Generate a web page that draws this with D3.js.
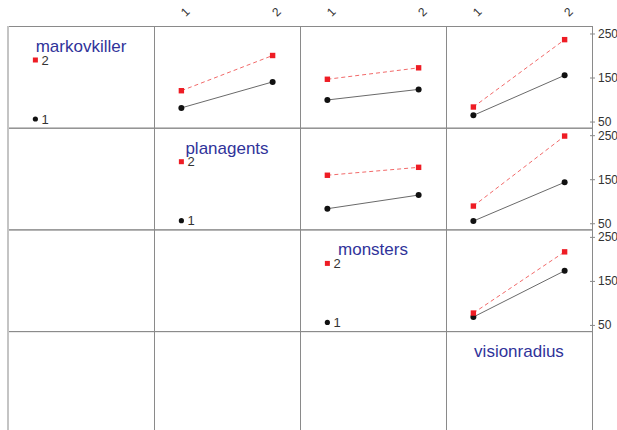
<!DOCTYPE html>
<html>
<head>
<meta charset="utf-8">
<script src="https://cdn.jsdelivr.net/npm/d3@7"></script>
<style>
  html, body { margin: 0; padding: 0; background: #fff; }
  svg { display: block; font-family: "Liberation Sans", Arial, sans-serif; }
</style>
</head>
<body>
<svg id="chart" width="617" height="430"></svg>
<script>
// Factors shown along the diagonal (row = trace factor, column = x factor)
const factors = ["markovkiller", "planagents", "monsters", "visionradius"];
const levels = ["1", "2"];
const yTicks = [50, 150, 250];

// Cell means: trace factor (row) by x factor (column), one array per trace level
const markovkiller_planagents_1 = [81, 140];
const markovkiller_planagents_2 = [120, 200];
const markovkiller_monsters_1 = [99, 123];
const markovkiller_monsters_2 = [146, 172];
const markovkiller_visionradius_1 = [64, 155];
const markovkiller_visionradius_2 = [83, 236];
const planagents_monsters_1 = [83, 114];
const planagents_monsters_2 = [159, 177];
const planagents_visionradius_1 = [55, 143];
const planagents_visionradius_2 = [89, 248];
const monsters_visionradius_1 = [68, 173];
const monsters_visionradius_2 = [77, 216];

const panels = [
  { row: 0, col: 1, l1: markovkiller_planagents_1, l2: markovkiller_planagents_2 },
  { row: 0, col: 2, l1: markovkiller_monsters_1, l2: markovkiller_monsters_2 },
  { row: 0, col: 3, l1: markovkiller_visionradius_1, l2: markovkiller_visionradius_2 },
  { row: 1, col: 2, l1: planagents_monsters_1, l2: planagents_monsters_2 },
  { row: 1, col: 3, l1: planagents_visionradius_1, l2: planagents_visionradius_2 },
  { row: 2, col: 3, l1: monsters_visionradius_1, l2: monsters_visionradius_2 }
];

const svg = d3.select("#chart");
const gridLeft = 8, gridTop = 26, cellW = 146, cellH = 101.7;
const n = factors.length;

const colX = d3.scaleLinear().domain([0, n]).range([gridLeft, gridLeft + n * cellW]);
const rowY = d3.scaleLinear().domain([0, n]).range([gridTop, gridTop + n * cellH]);

// x within a panel: factor levels 1..2 on an extended range
const xIn = d3.scaleLinear().domain([0.7, 2.3]).range([0, cellW]);
// y within a panel
const yIn = d3.scaleLinear().domain([36, 267]).range([cellH, 0]);

const nameColor = "#30339a";
const textColor = "#333";
const gridColor = "#8a8a8a";
const redLine = "#f26a6a";
const redPt = "#ee1c24";
const fontFam = "Liberation Sans, Arial, sans-serif";

// Grid of cells
const grid = svg.append("g");
for (let r = 0; r < n; r++) {
  for (let c = 0; c < n; c++) {
    grid.append("rect")
      .attr("x", colX(c) + 0.5).attr("y", rowY(r) + 0.5)
      .attr("width", cellW).attr("height", cellH)
      .attr("fill", "none").attr("stroke", gridColor).attr("stroke-width", 1);
  }
}
// lighter outer left edge
svg.append("line")
  .attr("x1", gridLeft).attr("x2", gridLeft)
  .attr("y1", gridTop).attr("y2", 430)
  .attr("stroke", "#c4c4c4").attr("stroke-width", 2);

// Top axis labels for columns 2..4
for (let c = 1; c < n; c++) {
  const g = svg.append("g").attr("transform", `translate(${colX(c)},0)`);
  g.selectAll("text").data(levels).join("text")
    .attr("transform", d => `translate(${xIn(+d) + 4},12) rotate(-45)`)
    .attr("text-anchor", "middle").attr("dominant-baseline", "central")
    .attr("font-size", 12).attr("fill", textColor).attr("font-family", fontFam)
    .text(d => d);
}

// Right axis for rows 1..3
for (let r = 0; r < n - 1; r++) {
  const g = svg.append("g").attr("transform", `translate(${colX(n)},${rowY(r)})`);
  const axis = d3.axisRight(yIn).tickValues(yTicks).tickSize(4).tickPadding(2);
  g.call(axis);
  g.attr("font-family", fontFam);
  g.select(".domain").remove();
  g.selectAll(".tick line").attr("stroke", gridColor).attr("x1", -2).attr("x2", 3);
  g.selectAll(".tick text").attr("font-size", 12).attr("fill", textColor);
}

// Diagonal: factor name and level key
factors.forEach((f, i) => {
  const g = svg.append("g").attr("transform", `translate(${colX(i)},${rowY(i)})`);
  g.append("text")
    .attr("x", cellW / 2).attr("y", 26)
    .attr("text-anchor", "middle")
    .attr("font-size", 17).attr("fill", nameColor).attr("font-family", fontFam)
    .text(f);
  if (i < n - 1) {
    const keyY = d3.scalePoint().domain(levels).range([93, 34]);
    const kx = xIn(1);
    g.append("circle").attr("cx", kx).attr("cy", keyY("1")).attr("r", 2.6).attr("fill", "#111");
    g.append("rect").attr("x", kx - 2.5).attr("y", keyY("2") - 2.5)
      .attr("width", 5).attr("height", 5).attr("fill", redPt);
    g.selectAll("text.key").data(levels).join("text")
      .attr("class", "key")
      .attr("x", kx + 6).attr("y", d => keyY(d))
      .attr("dominant-baseline", "central")
      .attr("font-size", 13).attr("fill", textColor).attr("font-family", fontFam)
      .text(d => d);
  }
});

// Interaction panels
const line = d3.line().x((d, i) => xIn(i + 1)).y(d => yIn(d));
panels.forEach(p => {
  const g = svg.append("g").attr("transform", `translate(${colX(p.col)},${rowY(p.row)})`);
  g.append("path").attr("d", line(p.l1))
    .attr("fill", "none").attr("stroke", "#6a6a6a").attr("stroke-width", 1);
  g.append("path").attr("d", line(p.l2))
    .attr("fill", "none").attr("stroke", redLine).attr("stroke-width", 1)
    .attr("stroke-dasharray", "4,3");
  g.selectAll("circle").data(p.l1).join("circle")
    .attr("cx", (d, i) => xIn(i + 1)).attr("cy", d => yIn(d))
    .attr("r", 3).attr("fill", "#111");
  g.selectAll("rect").data(p.l2).join("rect")
    .attr("x", (d, i) => xIn(i + 1) - 2.7).attr("y", d => yIn(d) - 2.7)
    .attr("width", 5.4).attr("height", 5.4).attr("fill", redPt);
});
</script>
</body>
</html>
